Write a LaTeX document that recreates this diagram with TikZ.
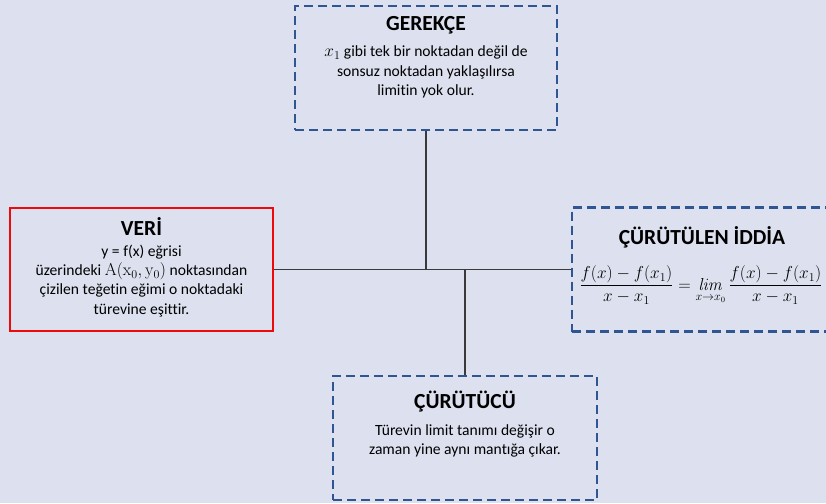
\documentclass[tikz,border=0pt]{standalone}
\usepackage{amsmath}
\usepackage[no-math]{fontspec}
\setmainfont{Carlito}[Ligatures=NoCommon]
\definecolor{bg}{HTML}{DDE1EF}
\definecolor{dashblue}{HTML}{2F5592}
\definecolor{boxred}{HTML}{EE0A0A}
\definecolor{linkgray}{HTML}{3A3A3A}
% inline math set a little larger so it sits well beside the sans text
\newcommand{\txtmath}[1]{{\fontsize{18}{19.2}\selectfont$#1$}}
\tikzset{
  dbox/.style={draw=dashblue, line width=2.6pt, dash pattern=on 9pt off 5pt, fill=bg},
  rbox/.style={draw=boxred, line width=2.6pt, fill=bg},
  ttl/.style={font=\fontsize{21.5}{24}\selectfont\bfseries, inner sep=0pt},
  body/.style={font=\fontsize{15.6}{19.2}\selectfont, align=center, inner sep=0pt},
  link/.style={draw=linkgray, line width=1.4pt},
}
\begin{document}
\begin{tikzpicture}[x=1pt, y=-1pt]
  \fill[bg] (0,0) rectangle (826,503);
  \useasboundingbox (0,0) rectangle (826,503);
  \clip (0,0) rectangle (826,503);

  % boxes
  \node[dbox, minimum width=262pt, minimum height=124pt] (gerekce) at (426,68) {};
  \node[rbox, minimum width=263pt, minimum height=123pt] (veri) at (141.5,269.5) {};
  \node[dbox, minimum width=258pt, minimum height=124pt] (iddia) at (701,269.5) {};
  \node[dbox, minimum width=264pt, minimum height=124pt] (curutucu) at (465,438) {};

  % connectors
  \coordinate (jtop) at (gerekce.south |- veri.east);
  \coordinate (jbot) at (curutucu.north |- veri.east);
  \draw[link] (veri.east) -- (iddia.west);
  \draw[link] (gerekce.south) -- (jtop);
  \draw[link] (jbot) -- (curutucu.north);

  % GEREKÇE
  \node[ttl] (gerekceT) at (426,25) {GEREKÇE};
  \node[body] (gerekceB) at (426,72) {\txtmath{x_1} gibi tek bir noktadan değil de\\sonsuz noktadan yaklaşılırsa\\limitin yok olur.};

  % VERİ
  \node[ttl] (veriT) at (141.5,227) {VERİ};
  \node[body] (veriB) at (141.5,281) {y = f(x) eğrisi\\üzerindeki \txtmath{\mathrm{A}(\mathrm{x}_0,\mathrm{y}_0)} noktasından\\çizilen teğetin eğimi o noktadaki\\türevine eşittir.};

  % ÇÜRÜTÜLEN İDDİA
  \node[ttl] (iddiaT) at (702,237) {ÇÜRÜTÜLEN İDDİA};
  \node[body] (iddiaF) at (701,285) {\fontsize{16.5}{19}\selectfont$\dfrac{f(x)-f(x_1)}{x-x_1}=\mathop{\mathit{lim}}\limits_{x\to x_0}\dfrac{f(x)-f(x_1)}{x-x_1}$};

  % ÇÜRÜTÜCÜ
  \node[ttl] (curutucuT) at (465,402) {ÇÜRÜTÜCÜ};
  \node[body] (curutucuB) at (465,441) {Türevin limit tanımı değişir o\\zaman yine aynı mantığa çıkar.};
\end{tikzpicture}
\end{document}
